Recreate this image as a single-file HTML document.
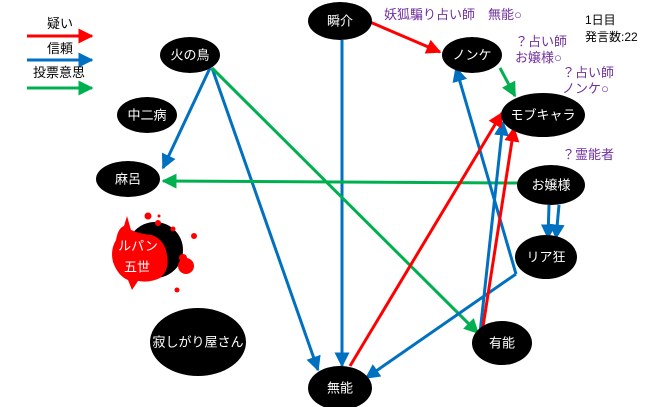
<!DOCTYPE html><html><head><meta charset="utf-8"><style>
body{margin:0;background:#fff}
svg{display:block;font-family:"Liberation Sans","Noto Sans CJK JP",sans-serif}
.n{fill:#fff;font-size:13px;text-anchor:middle;dominant-baseline:central}
.p{fill:#7030a0;font-size:13px}
</style></head><body>
<svg width="660" height="407" viewBox="0 0 660 407">
<defs>
<marker id="r" markerWidth="5" markerHeight="5" refX="4.5" refY="2.5" orient="auto"><path d="M0,0L5,2.5L0,5z" fill="#ff0000"/></marker>
<marker id="b" markerWidth="5" markerHeight="5" refX="4.5" refY="2.5" orient="auto"><path d="M0,0L5,2.5L0,5z" fill="#0070c0"/></marker>
<marker id="g" markerWidth="5" markerHeight="5" refX="4.5" refY="2.5" orient="auto"><path d="M0,0L5,2.5L0,5z" fill="#00b050"/></marker>
</defs>
<text x="47" y="28" font-size="13">疑い</text>
<line x1="27" y1="36" x2="92" y2="36" stroke="#ff0000" stroke-width="3" marker-end="url(#r)"/>
<text x="47" y="53" font-size="13">信頼</text>
<line x1="27" y1="60" x2="92" y2="60" stroke="#0070c0" stroke-width="3" marker-end="url(#b)"/>
<text x="33" y="77" font-size="13">投票意思</text>
<line x1="27" y1="88" x2="92" y2="88" stroke="#00b050" stroke-width="3" marker-end="url(#g)"/>
<g stroke-width="3" fill="none">
<line x1="370" y1="22" x2="440" y2="52" stroke="#ff0000" marker-end="url(#r)"/>
<line x1="342" y1="40" x2="342" y2="366" stroke="#0070c0" marker-end="url(#b)"/>
<line x1="210" y1="68" x2="163" y2="168" stroke="#0070c0" marker-end="url(#b)"/>
<line x1="212" y1="68" x2="318" y2="370" stroke="#0070c0" marker-end="url(#b)"/>
<line x1="212" y1="68" x2="478" y2="333" stroke="#00b050" marker-end="url(#g)"/>
<line x1="518" y1="183" x2="163" y2="181" stroke="#00b050" marker-end="url(#g)"/>
<line x1="500" y1="68" x2="515" y2="96" stroke="#00b050" marker-end="url(#g)"/>
<line x1="516" y1="274" x2="456" y2="68" stroke="#0070c0" marker-end="url(#b)"/>
<line x1="516" y1="274" x2="366" y2="378" stroke="#0070c0" marker-end="url(#b)"/>
<line x1="480" y1="333" x2="503" y2="122" stroke="#0070c0" marker-end="url(#b)"/>
<line x1="482" y1="333" x2="514" y2="128" stroke="#ff0000" marker-end="url(#r)"/>
<line x1="350" y1="366" x2="502" y2="113" stroke="#ff0000" marker-end="url(#r)"/>
<line x1="549" y1="205" x2="548" y2="238" stroke="#0070c0" marker-end="url(#b)"/>
<line x1="559" y1="205" x2="556" y2="238" stroke="#0070c0" marker-end="url(#b)"/>
</g>
<ellipse cx="340" cy="21" rx="32" ry="19"/><text class="n" x="340" y="21">瞬介</text>
<ellipse cx="190" cy="55" rx="30" ry="18"/><text class="n" x="190" y="55">火の鳥</text>
<ellipse cx="147" cy="115" rx="30" ry="18"/><text class="n" x="147" y="115">中二病</text>
<ellipse cx="128" cy="179" rx="32" ry="18"/><text class="n" x="128" y="179">麻呂</text>
<ellipse cx="472" cy="55" rx="30" ry="18"/><text class="n" x="472" y="55">ノンケ</text>
<ellipse cx="543" cy="115" rx="42" ry="22"/><text class="n" x="543" y="115">モブキャラ</text>
<ellipse cx="551" cy="185" rx="34" ry="20"/><text class="n" x="551" y="185">お嬢様</text>
<ellipse cx="546" cy="257" rx="31" ry="22"/><text class="n" x="546" y="257">リア狂</text>
<ellipse cx="502" cy="343" rx="30" ry="22"/><text class="n" x="502" y="343">有能</text>
<ellipse cx="340" cy="388" rx="32" ry="22"/><text class="n" x="340" y="388">無能</text>
<ellipse cx="198" cy="342" rx="48" ry="34"/><text class="n" x="198" y="342">寂しがり屋さん</text>
<!-- lupin -->
<ellipse cx="155" cy="250" rx="28" ry="28"/>
<path d="M116,240 Q118,228 124,226 L127,216 L131,230 Q140,234 152,235 Q165,240 167,255 Q170,270 160,278 Q150,283 138,281 L132,290 L128,280 Q118,276 113,262 Q110,250 116,240z" fill="#ff0000"/>
<circle cx="186" cy="266" r="8" fill="#ff0000"/><circle cx="183" cy="258" r="4" fill="#ff0000"/>
<circle cx="158" cy="223" r="3" fill="#ff0000"/><circle cx="173" cy="229" r="2.5" fill="#ff0000"/>
<circle cx="148" cy="216" r="3.5" fill="#ff0000"/><circle cx="194" cy="236" r="3" fill="#ff0000"/>
<circle cx="177" cy="290" r="2.5" fill="#ff0000"/><circle cx="159" cy="216" r="1.5" fill="#ff0000"/>
<text class="n" x="138" y="246">ルパン</text>
<text class="n" x="137" y="267">五世</text>
<text class="p" x="384" y="19">妖狐騙り占い師　無能○</text>
<text class="p" x="515" y="46">？占い師</text>
<text class="p" x="515" y="62">お嬢様○</text>
<text class="p" x="562" y="77">？占い師</text>
<text class="p" x="562" y="93">ノンケ○</text>
<text class="p" x="562" y="159">？霊能者</text>
<text x="585" y="24" font-size="12">1日目</text>
<text x="585" y="41" font-size="12">発言数:22</text>
</svg></body></html>
